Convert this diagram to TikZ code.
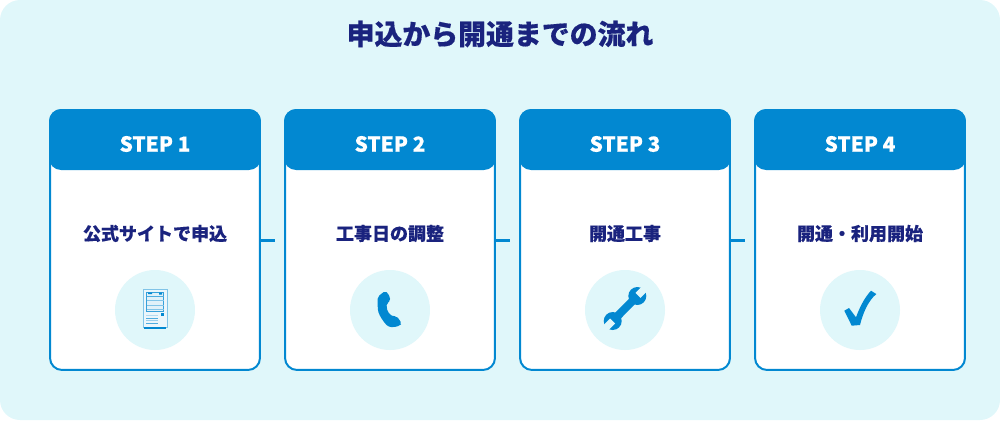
\documentclass[tikz,border=0pt]{standalone}
\usepackage{fontspec}
\setmainfont{Noto Sans CJK JP}
\definecolor{panelbg}{HTML}{E0F7FA}
\definecolor{stepblue}{HTML}{0288D1}
\definecolor{navy}{HTML}{1A237E}
\begin{document}
\begin{tikzpicture}[x=0.02cm,y=-0.02cm,
        card/.style={rectangle,draw=stepblue,fill=white,line width=0.4mm,rounded corners=2.4mm,
          inner sep=0pt,minimum width=4.2cm,minimum height=5.2cm},
        head/.style={rectangle,fill=stepblue,rounded corners=2.4mm,
          inner sep=0pt,minimum width=4.24cm,minimum height=1.22cm},
        steplabel/.style={text=white,font=\fontsize{11.8pt}{14pt}\bfseries\addfontfeature{FakeBold=0.4},inner sep=0pt},
        tasklabel/.style={text=navy,font=\fontsize{10.25pt}{12pt}\bfseries\addfontfeature{FakeBold=0.3},inner sep=0pt},
        iconbg/.style={circle,fill=panelbg,inner sep=0pt,minimum size=1.6cm},
        link/.style={draw=stepblue,line width=0.6mm}]
      \useasboundingbox (0,0) rectangle (1000,420);
      \fill[panelbg,rounded corners=4mm] (0,0) rectangle (1000,420);
      \node (title) at (500,34) [text=navy,font=\fontsize{15.87pt}{18pt}\bfseries\addfontfeature{FakeBold=0.4},inner sep=0pt] {申込から開通までの流れ};
      % cards
      \node (card1) at (155,240) [card] {};
      \node (card2) at (390,240) [card] {};
      \node (card3) at (625,240) [card] {};
      \node (card4) at (860,240) [card] {};
      \node (head1) at (155,139.5) [head] {};
      \node (head2) at (390,139.5) [head] {};
      \node (head3) at (625,139.5) [head] {};
      \node (head4) at (860,139.5) [head] {};
      \node (step1) at (155,144) [steplabel] {STEP 1};
      \node (step2) at (390,144) [steplabel] {STEP 2};
      \node (step3) at (625,144) [steplabel] {STEP 3};
      \node (step4) at (860,144) [steplabel] {STEP 4};
      \node (task1) at (155,233.5) [tasklabel] {公式サイトで申込};
      \node (task2) at (390,233.5) [tasklabel] {工事日の調整};
      \node (task3) at (625,233.5) [tasklabel] {開通工事};
      \node (task4) at (860,233.5) [tasklabel] {開通・利用開始};
      \node (icon1) at (155,310) [iconbg] {};
      \node (icon2) at (390,310) [iconbg] {};
      \node (icon3) at (625,310) [iconbg] {};
      \node (icon4) at (860,310) [iconbg] {};
      % connectors
      \coordinate (end1) at (275,240);
      \coordinate (end2) at (510,240);
      \coordinate (end3) at (745,240);
      \draw[link] (card1) -- (end1);
      \draw[link] (card2) -- (end2);
      \draw[link] (card3) -- (end3);
      % server
      \begin{scope}[shift={(155,310)}]
        \fill[stepblue!8] (-12,-21) rectangle (12,18);
        \draw[stepblue!50,line width=0.2mm] (-12,-21) rectangle (12,17);
        \fill[stepblue] (-11,16.5) rectangle (11,18.5);
        \fill[stepblue!12] (-8.5,-17.5) rectangle (8.5,1);
        \draw[stepblue!80,line width=0.16mm] (-8.5,-18) rectangle (8.5,1);
        \fill[stepblue] (-7,-17.5) rectangle (-3,-16) (4,-17.5) rectangle (7,-15.5);
        \draw[stepblue!70,line width=0.12mm] (-8.5,-14) -- (8.5,-14);
        \draw[stepblue!50,line width=0.12mm] (-8.5,-10) -- (8.5,-10);
        \draw[stepblue!50,line width=0.12mm] (-8.5,-5) -- (8.5,-5);
        \draw[stepblue!50,line width=0.12mm] (-8.5,-1) -- (8.5,-1);
        \fill[stepblue] (5.5,3) rectangle (8.5,6);
        \draw[stepblue!30,line width=0.1mm] (-9,5.5) -- (3,5.5);
        \draw[stepblue!70,line width=0.12mm] (-9,8) -- (3,8);
        \draw[stepblue!40,line width=0.12mm] (-9,10.5) -- (3,10.5);
        \draw[stepblue!70,line width=0.12mm] (-9,13.5) -- (3,13.5);
      \end{scope}
      % phone
      \begin{scope}[shift={(390,310)}]
        \fill[stepblue,rounded corners=0.4mm] (-12.3,-13.3) -- (-5,-19) -- (-1.7,-16.7) -- (0.7,-9.3) -- (-3.3,-6.7)
          .. controls (-3.5,-2) and (-2.5,1.5) .. (0,4.5) -- (3.3,6.7) -- (6.7,6) -- (11.7,13.3) -- (10,15.7) -- (3.3,17.3)
          .. controls (-1,17) and (-3,15.5) .. (-5,13.3) .. controls (-9,8) and (-12,3) .. (-12.3,-3) -- cycle;
      \end{scope}
      % wrench
      \begin{scope}[shift={(625,310)}]
        \draw[stepblue,line width=1.6mm] (12.3,-14) -- (-12.3,11);
        \fill[stepblue] (12.3,-14) circle [radius=9];
        \fill[stepblue] (-12.3,11) circle [radius=9];
        \fill[panelbg] (10.5,-17.2) -- (15.5,-12.2) -- (24,-20.7) -- (19,-25.7) -- cycle;
        \fill[panelbg] (-14.8,8.5) -- (-9.8,13.5) -- (-18.3,22) -- (-23.3,17) -- cycle;
      \end{scope}
      % check
      \begin{scope}[shift={(860,310)}]
        \fill[stepblue] (-15.7,0.7) -- (-11,-2) -- (-4,7.3) .. controls (-1,-1) and (4,-12) .. (11,-19.3) -- (16.3,-16)
          .. controls (8,-9) and (3,3) .. (0,15) -- (-8.3,15.7) -- cycle;
      \end{scope}
\end{tikzpicture}
\end{document}
